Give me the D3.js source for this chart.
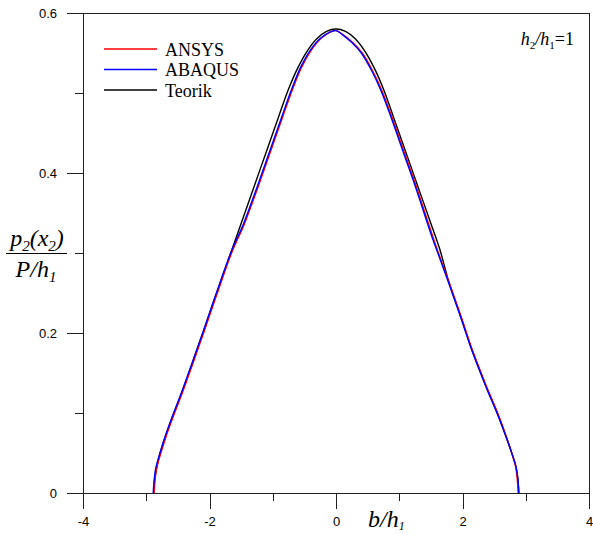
<!DOCTYPE html>
<html>
<head>
<meta charset="utf-8">
<script src="https://cdn.jsdelivr.net/npm/d3@7"></script>
<style>
  html, body { margin: 0; padding: 0; background: #fff; }
  svg { display: block; }
</style>
</head>
<body>
<svg id="chart" width="593" height="535"></svg>
<script>
// ---------- data ----------
const xMajorTicks = [-4, -2, 0, 2, 4];
const xMinorTicks = [-3, -1, 1, 3];
const yMajorTicks = [0, 0.2, 0.4, 0.6];
const yMinorTicks = [0.1, 0.3, 0.5];
const xTickLabels = ["-4", "-2", "0", "2", "4"];
const yTickLabels = ["0", "0.2", "0.4", "0.6"];

const seriesNames = ["ANSYS", "ABAQUS", "Teorik"];
const seriesColors = ["#ff0000", "#0000ff", "#000000"];

const teorikX = [-2.88, -2.87, -2.84, -2.78, -2.70, -2.60, -2.45, -2.30, -2.10, -1.90, -1.70, -1.50, -1.30, -1.10, -0.90, -0.75, -0.60, -0.45, -0.30, -0.15, 0,
                 0.15, 0.30, 0.45, 0.60, 0.75, 0.90, 1.10, 1.30, 1.50, 1.64, 1.78, 1.975, 2.145, 2.355, 2.575, 2.69, 2.77, 2.845, 2.875, 2.89];
const teorikY = [0, 0.015, 0.030, 0.050, 0.070, 0.092, 0.123, 0.156, 0.201, 0.247, 0.292, 0.337, 0.382, 0.427, 0.472, 0.505, 0.532, 0.553, 0.568, 0.577, 0.580,
                 0.577, 0.568, 0.553, 0.532, 0.505, 0.472, 0.427, 0.382, 0.337, 0.305, 0.265, 0.220, 0.180, 0.137, 0.095, 0.070, 0.052, 0.033, 0.018, 0];

const abaqusX = [-2.89, -2.875, -2.85, -2.78, -2.70, -2.60, -2.45, -2.30, -2.10, -1.90, -1.665, -1.46, -1.25, -1.05, -0.85, -0.70, -0.56, -0.41, -0.25, -0.10, 0,
                 0.10, 0.25, 0.40, 0.55, 0.70, 0.86, 1.06, 1.26, 1.43, 1.51, 1.61, 1.77, 1.97, 2.14, 2.35, 2.57, 2.69, 2.77, 2.845, 2.875, 2.89];
const abaqusY = [0, 0.016, 0.031, 0.051, 0.071, 0.093, 0.124, 0.157, 0.202, 0.248, 0.300, 0.337, 0.382, 0.427, 0.472, 0.505, 0.532, 0.553, 0.568, 0.576, 0.578,
                 0.573, 0.563, 0.550, 0.530, 0.505, 0.472, 0.427, 0.382, 0.341, 0.322, 0.300, 0.265, 0.220, 0.180, 0.137, 0.095, 0.070, 0.052, 0.033, 0.018, 0];

const ansysX = [-2.875, -2.86, -2.835, -2.765, -2.685, -2.585, -2.435, -2.285, -2.085, -1.885, -1.65, -1.445, -1.235, -1.035, -0.835, -0.685, -0.545, -0.395, -0.24, -0.09, 0,
                0.11, 0.265, 0.415, 0.565, 0.715, 0.875, 1.075, 1.275, 1.445, 1.525, 1.62, 1.78, 1.98, 2.15, 2.36, 2.58, 2.695, 2.77, 2.84, 2.865, 2.88];
const ansysY = [0, 0.016, 0.031, 0.051, 0.071, 0.093, 0.124, 0.157, 0.202, 0.248, 0.300, 0.337, 0.382, 0.427, 0.472, 0.505, 0.532, 0.553, 0.568, 0.576, 0.578,
                0.573, 0.563, 0.550, 0.530, 0.505, 0.472, 0.427, 0.382, 0.341, 0.322, 0.300, 0.265, 0.220, 0.180, 0.137, 0.095, 0.070, 0.052, 0.033, 0.018, 0];

// ---------- layout ----------
const svg = d3.select("#chart");
const x = d3.scaleLinear().domain([-4, 4]).range([83, 589]);
const y = d3.scaleLinear().domain([0, 0.6]).range([493, 13]);
const axisColor = "#222";
const tickFont = "'Liberation Sans', Arial, sans-serif";
const serif = "'Liberation Serif', 'Times New Roman', serif";

// frame (top and right)
svg.append("line").attr("x1", x(-4)).attr("x2", x(4)).attr("y1", y(0.6)).attr("y2", y(0.6))
  .attr("stroke", axisColor).attr("shape-rendering", "crispEdges");
svg.append("line").attr("x1", x(4)).attr("x2", x(4)).attr("y1", y(0.6)).attr("y2", y(0))
  .attr("stroke", axisColor).attr("shape-rendering", "crispEdges");

// x axis (major + minor)
const xAxisG = svg.append("g").attr("transform", `translate(0,${y(0)})`)
  .call(d3.axisBottom(x).tickValues(xMajorTicks).tickSize(16).tickFormat((d, i) => xTickLabels[i]));
svg.append("g").attr("transform", `translate(0,${y(0)})`)
  .call(d3.axisBottom(x).tickValues(xMinorTicks).tickSize(8).tickFormat(""))
  .call(g => g.select(".domain").remove());

// y axis (major + minor)
const yAxisG = svg.append("g").attr("transform", `translate(${x(-4)},0)`)
  .call(d3.axisLeft(y).tickValues(yMajorTicks).tickSize(16).tickFormat((d, i) => yTickLabels[i]));
svg.append("g").attr("transform", `translate(${x(-4)},0)`)
  .call(d3.axisLeft(y).tickValues(yMinorTicks).tickSize(8).tickFormat(""))
  .call(g => g.select(".domain").remove());

svg.selectAll(".domain").attr("stroke", axisColor).attr("shape-rendering", "crispEdges");
svg.selectAll(".tick line").attr("stroke", axisColor).attr("shape-rendering", "crispEdges");
svg.selectAll(".tick text").attr("font-family", tickFont).attr("font-size", 13).attr("fill", "#000");
xAxisG.selectAll(".tick text").attr("y", 24).attr("dy", "0.71em");
yAxisG.selectAll(".tick text").attr("x", -26);

// extend bottom line to the left, like the reference
svg.append("line").attr("x1", x(-4) - 16).attr("x2", x(-4)).attr("y1", y(0)).attr("y2", y(0))
  .attr("stroke", axisColor).attr("shape-rendering", "crispEdges");

// ---------- curves ----------
const line = d3.line().x(d => x(d[0])).y(d => y(d[1])).curve(d3.curveCatmullRom.alpha(0.5));
const seriesData = [
  d3.zip(ansysX, ansysY),
  d3.zip(abaqusX, abaqusY),
  d3.zip(teorikX, teorikY)
];
const drawOrder = [2, 0, 1]; // Teorik under, ANSYS, then ABAQUS on top
drawOrder.forEach(i => {
  svg.append("path").datum(seriesData[i]).attr("d", line)
    .attr("fill", "none").attr("stroke", seriesColors[i]).attr("stroke-width", 1.4);
});

// ---------- legend ----------
const legend = svg.append("g");
seriesNames.forEach((name, i) => {
  const ly = 49 + i * 20.5;
  legend.append("line").attr("x1", 104).attr("x2", 157).attr("y1", ly).attr("y2", ly)
    .attr("stroke", seriesColors[i]).attr("stroke-width", 1.4);
  legend.append("text").attr("x", 165).attr("y", ly + 6.5).text(name)
    .attr("font-family", serif).attr("font-size", 18).attr("fill", "#000");
});

// ---------- annotation h2/h1=1 ----------
const ann = svg.append("text").attr("x", 574).attr("y", 45).attr("text-anchor", "end")
  .attr("font-family", serif).attr("font-size", 18).attr("fill", "#000");
ann.append("tspan").text("h").attr("font-style", "italic");
ann.append("tspan").text("2").attr("font-size", 11).attr("dy", 4);
ann.append("tspan").text("/h").attr("font-style", "italic").attr("dy", -4);
ann.append("tspan").text("1").attr("font-size", 11).attr("dy", 4);
ann.append("tspan").text("=1").attr("dy", -4);

// ---------- y title (fraction) ----------
const num = svg.append("text").attr("x", 37).attr("y", 246).attr("text-anchor", "middle")
  .attr("font-family", serif).attr("font-size", 24).attr("font-style", "italic").attr("fill", "#000");
num.append("tspan").text("p");
num.append("tspan").text("2").attr("font-size", 15).attr("dy", 5);
num.append("tspan").text("(x").attr("dy", -5);
num.append("tspan").text("2").attr("font-size", 15).attr("dy", 5);
num.append("tspan").text(")").attr("dy", -5);
svg.append("line").attr("x1", 6).attr("x2", 67).attr("y1", 253.5).attr("y2", 253.5)
  .attr("stroke", "#000").attr("stroke-width", 1);
const den = svg.append("text").attr("x", 36).attr("y", 277).attr("text-anchor", "middle")
  .attr("font-family", serif).attr("font-size", 24).attr("font-style", "italic").attr("fill", "#000");
den.append("tspan").text("P/h");
den.append("tspan").text("1").attr("font-size", 15).attr("dy", 5);

// ---------- x title ----------
const xt = svg.append("text").attr("x", 368).attr("y", 527)
  .attr("font-family", serif).attr("font-size", 24).attr("font-style", "italic").attr("fill", "#000");
xt.append("tspan").text("b/h");
xt.append("tspan").text("1").attr("font-size", 12).attr("dy", 3);
</script>
</body>
</html>
